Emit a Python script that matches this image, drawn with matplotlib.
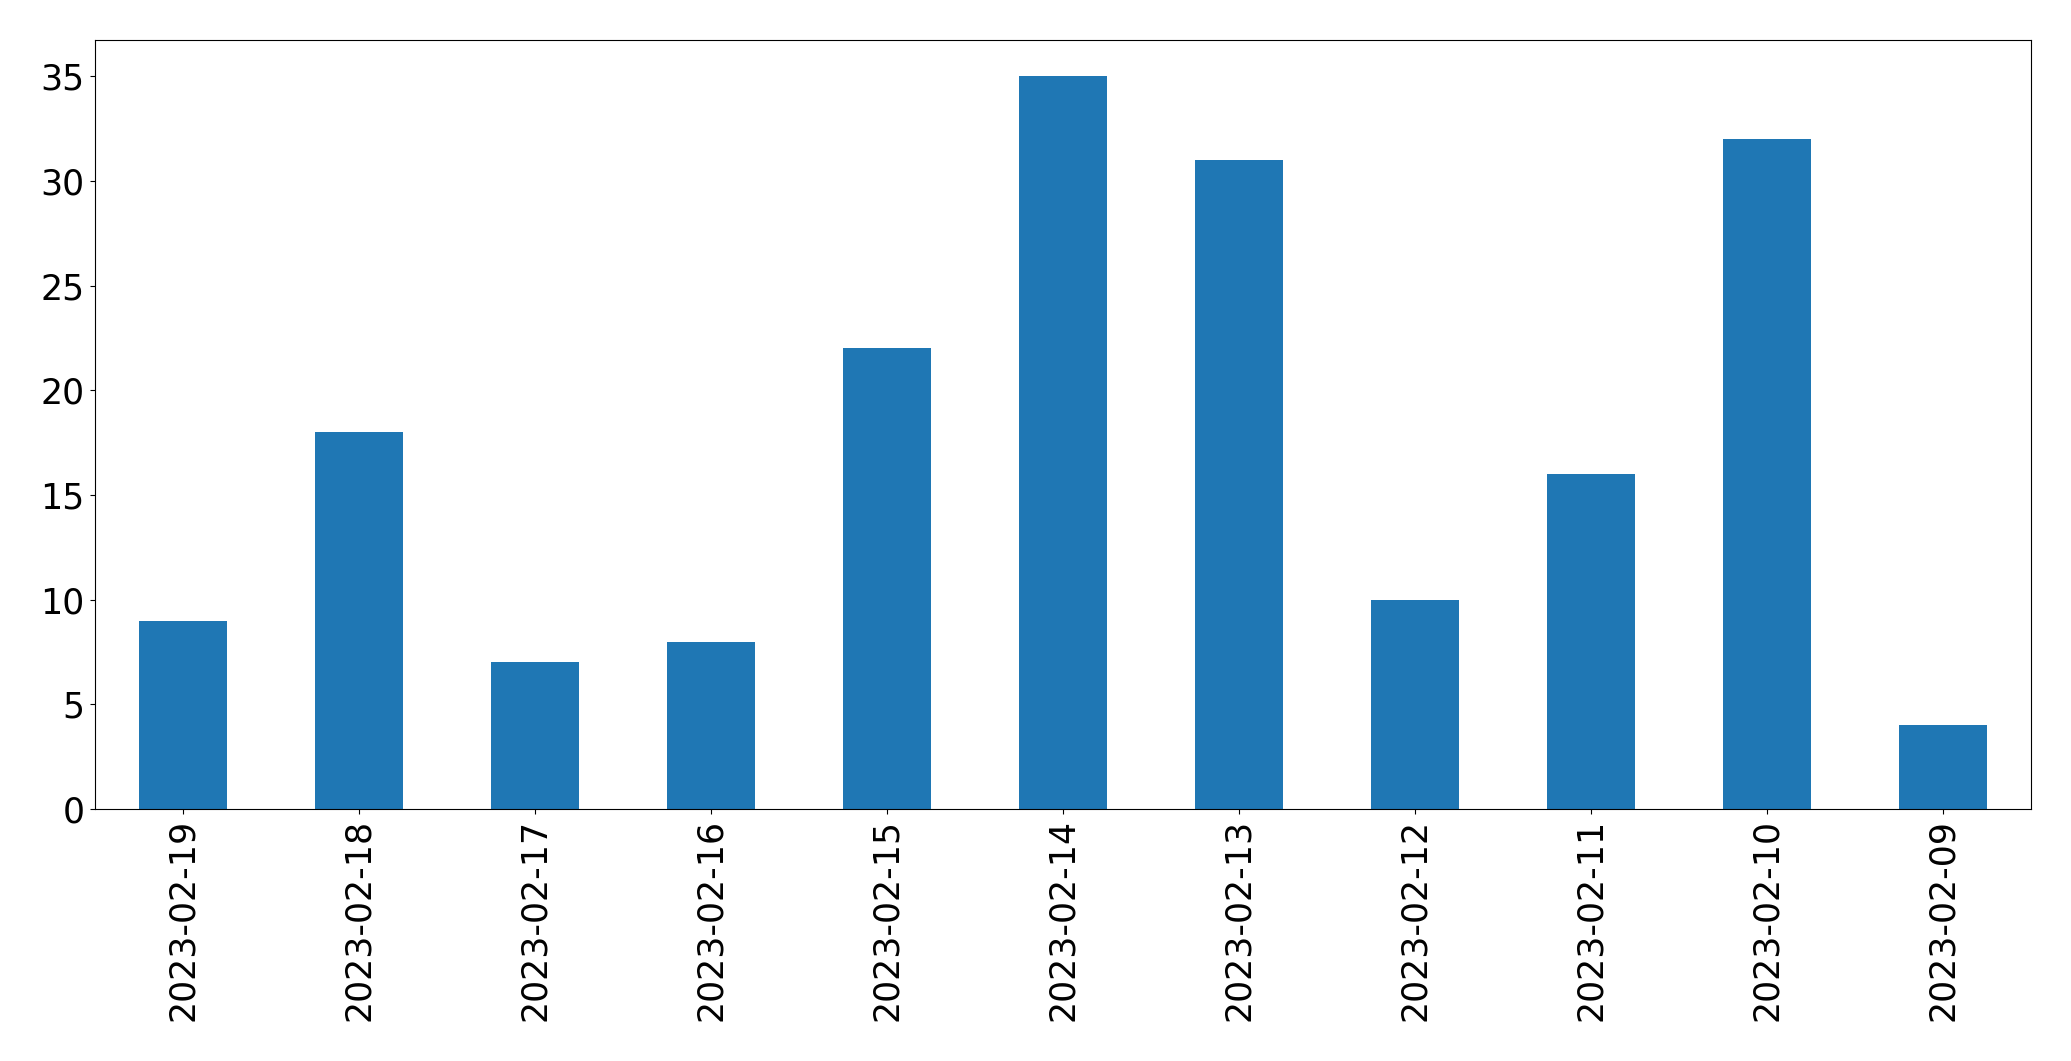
import matplotlib
matplotlib.use("Agg")
import matplotlib.pyplot as plt

dates = ["2023-02-19", "2023-02-18", "2023-02-17", "2023-02-16", "2023-02-15",
         "2023-02-14", "2023-02-13", "2023-02-12", "2023-02-11", "2023-02-10", "2023-02-09"]
counts = [9, 18, 7, 8, 22, 35, 31, 10, 16, 32, 4]

fig = plt.figure(figsize=(20.71, 10.61), dpi=100)
ax = fig.add_axes([94.5 / 2071, 1 - 809 / 1061, (2031 - 94.5) / 2071, (809 - 39.6) / 1061])
x = range(len(dates))
ax.bar(x, counts, width=0.5, color="#1f77b4")
ax.set_xticks(list(x))
ax.set_xticklabels(dates, rotation=90)
ax.set_xlim(-0.5, len(dates) - 0.5)
ax.set_ylim(0, 36.75)
ax.tick_params(labelsize=25)
fig.savefig("out.png", dpi=100)
